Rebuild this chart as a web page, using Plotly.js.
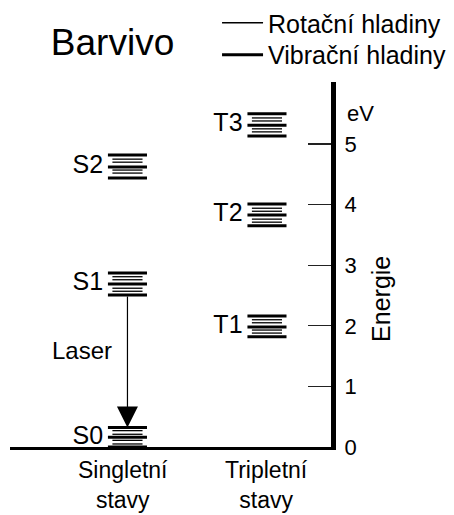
<!DOCTYPE html>
<html>
<head>
<meta charset="utf-8">
<script src="https://cdn.plot.ly/plotly-3.0.1.min.js"></script>
<style>html,body{margin:0;padding:0;background:#fff;}#chart{width:454px;height:515px;}</style>
</head>
<body>
<div id="chart"></div>
<script>
// ---- data ----
const stateNames = ['S0', 'S1', 'S2', 'T1', 'T2', 'T3'];
const stateColumn = [0, 0, 0, 1, 1, 1];
const columnLabels = ['Singletní<br>stavy', 'Tripletní<br>stavy'];
// vibrational (thick) and rotational (thin) levels, eV
const vibS0 = [0, 0.16, 0.32];
const rotS0 = [0.05, 0.11, 0.21, 0.27];
const vibS1 = [2.51, 2.69, 2.87];
const rotS1 = [2.57, 2.62, 2.76, 2.81];
const vibS2 = [4.44, 4.62, 4.82];
const rotS2 = [4.52, 4.57, 4.70, 4.75];
const vibT1 = [1.82, 1.98, 2.16];
const rotT1 = [1.88, 1.93, 2.05, 2.10];
const vibT2 = [3.65, 3.83, 4.01];
const rotT2 = [3.71, 3.76, 3.89, 3.94];
const vibT3 = [5.13, 5.31, 5.50];
const rotT3 = [5.20, 5.25, 5.38, 5.43];
const energyTicks = [0, 1, 2, 3, 4, 5];
const legendNames = ['Rotační hladiny', 'Vibrační hladiny'];
const chartTitle = 'Barvivo';
const axisTitle = 'Energie';
const axisUnit = 'eV';
const laserLabel = 'Laser';
const laserFrom = 'S1';
const laserTo = 'S0';

// ---- layout constants ----
const FONT = 'Liberation Sans, Arial, sans-serif';
const VIB_HW = 0.14, ROT_HW = 0.108, LABEL_GAP = 0.175;
const vibLevels = [vibS0, vibS1, vibS2, vibT1, vibT2, vibT3];
const rotLevels = [rotS0, rotS1, rotS2, rotT1, rotT2, rotT3];

function segments(levelSets, hw) {
  const xs = [], ys = [];
  levelSets.forEach((levels, i) => {
    const c = stateColumn[i];
    levels.forEach(e => { xs.push(c - hw, c + hw, null); ys.push(e, e, null); });
  });
  return {x: xs, y: ys};
}
const rotSeg = segments(rotLevels, ROT_HW);
const vibSeg = segments(vibLevels, VIB_HW);

const traces = [
  {type: 'scatter', mode: 'lines', name: legendNames[0], legend: 'legend', x: rotSeg.x, y: rotSeg.y,
   line: {color: '#000', width: 1.3}, hoverinfo: 'skip'},
  {type: 'scatter', mode: 'lines', name: legendNames[1], legend: 'legend2', x: vibSeg.x, y: vibSeg.y,
   line: {color: '#000', width: 3}, hoverinfo: 'skip'},
  {type: 'scatter', mode: 'text', showlegend: false,
   x: stateColumn.map(c => c - LABEL_GAP), y: vibLevels.map(v => v[1]),
   text: stateNames, textposition: 'middle left', cliponaxis: false,
   textfont: {family: FONT, size: 25, color: '#000'}, hoverinfo: 'skip'}
];

const iFrom = stateNames.indexOf(laserFrom), iTo = stateNames.indexOf(laserTo);
const arrowX = stateColumn[iFrom];
const arrowTop = Math.min(...vibLevels[iFrom]);
const arrowTip = Math.max(...vibLevels[iTo]);

const legendCommon = {x: 0.645, xanchor: 'left', yanchor: 'middle', bgcolor: 'rgba(0,0,0,0)',
                      font: {family: FONT, size: 25, color: '#000'}, itemwidth: 41};

const layout = {
  width: 454, height: 515,
  margin: {l: 10, r: 123, t: 82, b: 68, pad: 0, autoexpand: false},
  paper_bgcolor: '#fff', plot_bgcolor: '#fff',
  font: {family: FONT, color: '#000', size: 22},
  title: {text: chartTitle, x: 0.112, xanchor: 'left', y: 0.918, yanchor: 'middle',
          font: {family: FONT, size: 37, color: '#000'}},
  showlegend: true,
  legend: Object.assign({y: 1.1616}, legendCommon),
  legend2: Object.assign({y: 1.074}, legendCommon),
  xaxis: {range: [-0.842, 1.459], showline: true, linewidth: 3, linecolor: '#000',
          showgrid: false, zeroline: false, showticklabels: false, ticks: '', fixedrange: true},
  yaxis: {range: [0, 6.023], side: 'right', showline: true, linewidth: 5, linecolor: '#000',
          showgrid: false, zeroline: false, ticks: 'inside', ticklen: 23, tickwidth: 1.2,
          tickcolor: '#222', tickvals: energyTicks, ticktext: energyTicks.map(String),
          tickfont: {family: FONT, size: 22, color: '#000'}, ticklabelstandoff: 4, fixedrange: true},
  annotations: [
    {x: arrowX, y: arrowTip, ax: arrowX, ay: arrowTop, xref: 'x', yref: 'y', axref: 'x', ayref: 'y',
     text: '', showarrow: true, arrowhead: 2, arrowsize: 3.5, arrowwidth: 1.2, arrowcolor: '#000', standoff: 0},
    {x: arrowX - 0.326, y: 1.60, xref: 'x', yref: 'y', text: laserLabel,
     showarrow: false, font: {family: FONT, size: 24, color: '#000'}},
    {x: -0.035, y: -0.022, xref: 'x', yref: 'paper', yanchor: 'top', text: columnLabels[0],
     showarrow: false, font: {family: FONT, size: 23, color: '#000'}},
    {x: 1, y: -0.022, xref: 'x', yref: 'paper', yanchor: 'top', text: columnLabels[1],
     showarrow: false, font: {family: FONT, size: 23, color: '#000'}},
    {x: 1.044, y: 0.915, xref: 'paper', yref: 'paper', xanchor: 'left', yanchor: 'middle',
     text: axisUnit, showarrow: false, font: {family: FONT, size: 22, color: '#000'}},
    {x: 1.155, y: 0.405, xref: 'paper', yref: 'paper', xanchor: 'center', yanchor: 'middle',
     text: axisTitle, textangle: -90, showarrow: false, font: {family: FONT, size: 25, color: '#000'}}
  ]
};

Plotly.newPlot('chart', traces, layout, {staticPlot: true, displayModeBar: false});
</script>
</body>
</html>
